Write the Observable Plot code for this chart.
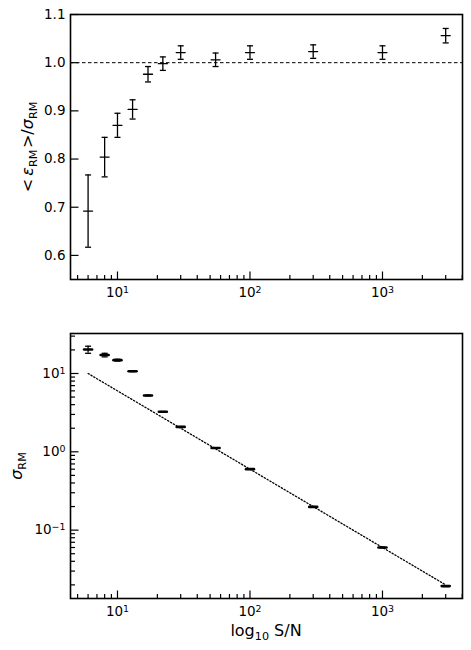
<!DOCTYPE html>
<html><head><meta charset="utf-8">
<script src="https://cdn.jsdelivr.net/npm/d3@7"></script>
<script src="https://cdn.jsdelivr.net/npm/@observablehq/plot@0.6"></script>
<style>
body{margin:0;background:#fff;font-family:"DejaVu Sans",sans-serif;}
#chart{width:471px;}
#chart svg{display:block;}
</style></head><body><div id="chart"></div>
<script>
// ---- data ----
const snr = [6, 8, 10, 13, 17, 22, 30, 55, 100, 300, 1000, 3000];
const ratio = [0.692, 0.804, 0.870, 0.903, 0.976, 0.998, 1.021, 1.006, 1.021, 1.023, 1.021, 1.056];
const ratioErr = [0.075, 0.041, 0.025, 0.020, 0.016, 0.014, 0.014, 0.014, 0.014, 0.014, 0.014, 0.015];
const sigma = [20.2, 17.2, 14.8, 10.7, 5.24, 3.24, 2.08, 1.12, 0.601, 0.198, 0.060, 0.0193];
const sigmaErr = [2.1, 0.9, 0.4, 0.15, 0.06, 0.03, 0.02, 0.01, 0.005, 0.002, 0.0006, 0.0002];
const expectedSnr = [6, 3000];
const expectedSigma = [10, 0.02];
const refLine = [1.0];

const xTicks = [10, 100, 1000];
const xTickExp = ["1", "2", "3"];
const xMinorTicks = [5,6,7,8,9,20,30,40,50,60,70,80,90,200,300,400,500,600,700,800,900,2000,3000,4000];
const ratioTicks = [0.6, 0.7, 0.8, 0.9, 1.0, 1.1];
const sigmaTicks = [0.1, 1, 10];
const sigmaTickExp = ["\u22121", "0", "1"];
const sigmaMinorTicks = [0.02,0.03,0.04,0.05,0.06,0.07,0.08,0.09,0.2,0.3,0.4,0.5,0.6,0.7,0.8,0.9,2,3,4,5,6,7,8,9,20,30];

const topData = snr.map((s, i) => ({snr: s, v: ratio[i], lo: ratio[i] - ratioErr[i], hi: ratio[i] + ratioErr[i]}));
const botData = snr.map((s, i) => ({snr: s, v: sigma[i], lo: sigma[i] - sigmaErr[i], hi: sigma[i] + sigmaErr[i]}));
const expected = expectedSnr.map((s, i) => ({snr: s, v: expectedSigma[i]}));

// ---- custom glyphs ----
const hbar = w => ({draw(ctx) { ctx.moveTo(-w / 2, 0); ctx.lineTo(w / 2, 0); }});
const upTick = len => ({draw(ctx) { ctx.moveTo(0, 0); ctx.lineTo(0, -len); }});
const rightTick = len => ({draw(ctx) { ctx.moveTo(0, 0); ctx.lineTo(len, 0); }});

const W = 471;
const xDomain = [4.42, 4017];
const style = {fontFamily: "DejaVu Sans", fontSize: "13.5px", color: "black", background: "white"};
const K = {stroke: "black", fill: "none"};

function errorMarks(data, centerW, centerSW) {
  return [
    Plot.ruleX(data, {x: "snr", y1: "lo", y2: "hi", stroke: "black", strokeWidth: 1.3}),
    Plot.dot(data, {x: "snr", y: "lo", symbol: hbar(6), ...K, strokeWidth: 1.3}),
    Plot.dot(data, {x: "snr", y: "hi", symbol: hbar(6), ...K, strokeWidth: 1.3}),
    Plot.dot(data, {x: "snr", y: "v", symbol: hbar(centerW), ...K, strokeWidth: centerSW, strokeLinecap: "round"})
  ];
}
function xTickMarks() {
  return [
    Plot.dot(xTicks, {x: d => d, frameAnchor: "bottom", symbol: upTick(8), ...K, strokeWidth: 1.2}),
    Plot.dot(xMinorTicks, {x: d => d, frameAnchor: "bottom", symbol: upTick(4.5), ...K, strokeWidth: 1.2}),
    Plot.axisX({ticks: xTicks, tickFormat: d => "10^" + xTickExp[xTicks.indexOf(d)], tickSize: 0, tickPadding: 8, label: null})
  ];
}

const topPlot = Plot.plot({
  width: W, height: 305, marginTop: 14, marginBottom: 26, marginLeft: 70, marginRight: 9,
  style,
  x: {type: "log", domain: xDomain},
  y: {domain: [0.55, 1.1]},
  marks: [
    Plot.ruleY(refLine, {stroke: "black", strokeWidth: 1, strokeDasharray: "3.5,2.5"}),
    ...errorMarks(topData, 9, 1.3),
    ...xTickMarks(),
    Plot.dot(ratioTicks, {y: d => d, frameAnchor: "left", symbol: rightTick(8), ...K, strokeWidth: 1.2}),
    Plot.axisY({ticks: ratioTicks, tickFormat: d => d.toFixed(1), tickSize: 0, tickPadding: 5, label: null}),
    Plot.frame({stroke: "black", strokeWidth: 1.6})
  ]
});

const botPlot = Plot.plot({
  width: W, height: 345, marginTop: 28, marginBottom: 52, marginLeft: 70, marginRight: 9,
  style,
  x: {type: "log", domain: xDomain},
  y: {type: "log", domain: [0.0134, 32.4]},
  marks: [
    Plot.line(expected, {x: "snr", y: "v", stroke: "black", strokeWidth: 1.3, strokeDasharray: "1.3,2"}),
    ...errorMarks(botData, 8, 2.6),
    ...xTickMarks(),
    Plot.dot(sigmaTicks, {y: d => d, frameAnchor: "left", symbol: rightTick(8), ...K, strokeWidth: 1.2}),
    Plot.dot(sigmaMinorTicks, {y: d => d, frameAnchor: "left", symbol: rightTick(4.5), ...K, strokeWidth: 1.2}),
    Plot.axisY({ticks: sigmaTicks, tickFormat: d => "10^" + sigmaTickExp[sigmaTicks.indexOf(d)], tickSize: 0, tickPadding: 5, label: null}),
    Plot.frame({stroke: "black", strokeWidth: 1.6})
  ]
});

// ---- turn "10^n" tick labels into real superscripts ----
function superscripts(svg) {
  d3.select(svg).selectAll("text").each(function () {
    const m = /^10\^(.+)$/.exec(this.textContent);
    if (!m) return;
    this.textContent = "10";
    d3.select(this).append("tspan").attr("dy", "-0.45em").attr("font-size", "70%").text(m[1]);
  });
}
superscripts(topPlot);
superscripts(botPlot);

// ---- axis titles with sub/superscripts ----
function addLabel(svg, x, y, rotate, parts, size) {
  const t = d3.select(svg).append("text")
    .attr("transform", `translate(${x},${y})` + (rotate ? " rotate(-90)" : ""))
    .attr("text-anchor", "middle").attr("font-family", "DejaVu Sans")
    .attr("font-size", size).attr("fill", "black");
  let shifted = false;
  for (const [s, kind] of parts) {
    const sp = t.append("tspan").text(s);
    if (kind === "sub") {
      sp.attr("font-size", size * 0.7);
      if (!shifted) { sp.attr("dy", size * 0.22); shifted = true; }
    } else {
      if (shifted) { sp.attr("dy", -size * 0.22); shifted = false; }
      if (kind === "it") sp.attr("font-style", "italic");
    }
  }
}
addLabel(topPlot, 33, 147, true, [["<\u2009", ""], ["ε", "it"], ["RM", "sub"], ["\u200A>/", ""], ["σ", "it"], ["RM", "sub"]], 16);
addLabel(botPlot, 22, 161, true, [["σ", "it"], ["RM", "sub"]], 16);
addLabel(botPlot, 266, 331, false, [["log", ""], ["10", "sub"], [" S/N", ""]], 16);

document.getElementById("chart").append(topPlot, botPlot);
</script>
</body></html>
